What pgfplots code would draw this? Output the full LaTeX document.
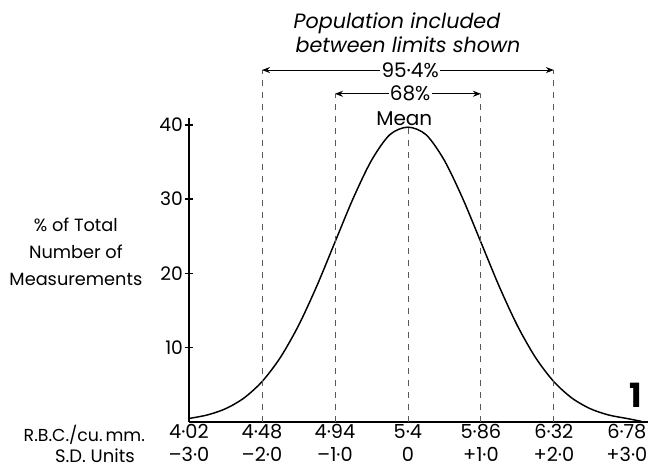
\documentclass[border=0pt]{standalone}
\usepackage{fontspec}
\setmainfont{Poppins}
\usepackage{pgfplots}
\pgfplotsset{compat=1.18}
\usetikzlibrary{arrows.meta}
\begin{document}
\begin{tikzpicture}
\useasboundingbox (-141.75pt,-34.7pt) rectangle (348pt,316.3pt);
\begin{axis}[
  at={(0,0)}, anchor=south west,
  scale only axis, width=344.25pt, height=227.6pt,
  xmin=-3, xmax=3.29, ymin=0, ymax=40.9,
  clip=false,
  axis lines=left,
  axis line style={-, line width=1.5pt},
  xtick={-3,-2,-1,0,1,2,3},
  xticklabels={{4·02\\–3·0},{4·48\\–2·0},{4·94\\–1·0},{5·4\\0},{5·86\\+1·0},{6·32\\+2·0},{6·78\\+3·0}},
  xticklabel style={align=center, font=\fontsize{14.5}{17}\selectfont, inner sep=0pt, yshift=1pt},
  x tick style={draw=none},
  ytick={10,20,30,40},
  yticklabels={10,20,30,40},
  yticklabel style={font=\fontsize{14}{16}\selectfont, xshift=2pt},
  y tick style={line width=1pt, black},
  tick align=center,
  major tick length=6pt,
]
\addplot[black, line width=1.1pt, smooth] coordinates {
(-3.0,0.44) (-2.75,0.91) (-2.5,1.75) (-2.25,3.17) (-2.0,5.40) (-1.75,8.63) (-1.5,12.95) (-1.25,18.26) (-1.0,24.20) (-0.75,30.11) (-0.5,35.21) (-0.25,38.67) (0,39.70) (0.25,38.67) (0.5,35.21) (0.75,30.11) (1.0,24.20) (1.25,18.26) (1.5,12.95) (1.75,8.63) (2.0,5.40) (2.25,3.17) (2.5,1.75) (2.75,0.91) (3.0,0.44) (3.1,0.25) (3.2,0.05)
};
% dashed limit lines
\draw[gray!70!black, dash pattern=on 4pt off 5pt, line width=0.6pt] (axis cs:-2,0) -- (axis cs:-2,47.4);
\draw[gray!70!black, dash pattern=on 4pt off 5pt, line width=0.6pt] (axis cs:2,0) -- (axis cs:2,47.4);
\draw[gray!70!black, dash pattern=on 4pt off 5pt, line width=0.6pt] (axis cs:-1,0) -- (axis cs:-1,44.2);
\draw[gray!70!black, dash pattern=on 4pt off 5pt, line width=0.6pt] (axis cs:1,0) -- (axis cs:1,44.2);
\draw[gray!70!black, dash pattern=on 4pt off 5pt, line width=0.6pt] (axis cs:0,0) -- (axis cs:0,39.7);
% arrows
\draw[{Stealth[length=6pt]}-{Stealth[length=6pt]}, line width=0.7pt] (axis cs:-2,47.4) -- (axis cs:2,47.4);
\node[fill=white, inner sep=1pt, font=\fontsize{15}{17}\selectfont] at (axis cs:0.03,47.4) {95·4\%};
\draw[{Stealth[length=6pt]}-{Stealth[length=6pt]}, line width=0.7pt] (axis cs:-1,44.2) -- (axis cs:1,44.2);
\node[fill=white, inner sep=1pt, font=\fontsize{15}{17}\selectfont] at (axis cs:0.03,44.2) {68\%};
\node[font=\fontsize{15}{17}\selectfont] at (axis cs:-0.05,40.9) {Mean};
\node[font=\itshape\fontsize{15.5}{17}\selectfont] at (axis cs:-0.15,53.7) {Population included};
\node[font=\itshape\fontsize{15.5}{17}\selectfont] at (axis cs:0,50.8) {between limits shown};
% y label
\node[align=center, font=\fontsize{13.3}{20}\selectfont] at (axis cs:-4.55,22.9) {\% of Total\\Number of\\Measurements};
% row labels
\node[anchor=east, inner sep=0pt, font=\fontsize{13}{15}\selectfont] at (axis cs:-3.60,-1.73) {R.B.C./cu.\,mm.};
\node[anchor=east, inner sep=0pt, font=\fontsize{13.5}{15}\selectfont] at (axis cs:-3.74,-4.6) {S.D. Units};
\node[font=\bfseries\fontsize{25}{27}\selectfont] at (axis cs:3.12,3.6) {1};
\end{axis}
\end{tikzpicture}
\end{document}
